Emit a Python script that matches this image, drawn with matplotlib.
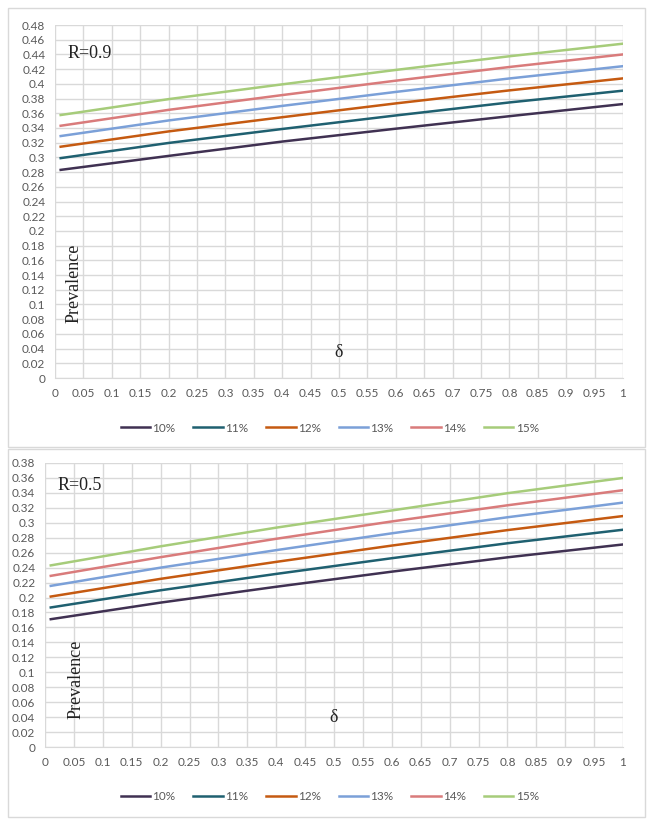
from matplotlib import pyplot as plt
from matplotlib.patches import Rectangle
import numpy as np

# values
delta = [0.01, 0.2, 0.4, 0.6, 0.8, 1.0]
labels = ['10%', '11%', '12%', '13%', '14%', '15%']
colors = ['#403152', '#1F6070', '#C55A11', '#7BA0D8', '#D97B7B', '#A6CC7A']

r09 = [
    [0.283, 0.302, 0.3215, 0.339, 0.356, 0.3725],
    [0.299, 0.3196, 0.3386, 0.357, 0.3747, 0.3907],
    [0.3145, 0.3353, 0.3546, 0.3734, 0.3911, 0.4074],
    [0.329, 0.3502, 0.370, 0.389, 0.4073, 0.424],
    [0.343, 0.3646, 0.3847, 0.4043, 0.4229, 0.440],
    [0.3576, 0.3792, 0.3993, 0.4189, 0.4375, 0.4546],
]
r05 = [
    [0.171, 0.1932, 0.2144, 0.2346, 0.2538, 0.271],
    [0.1867, 0.2097, 0.2316, 0.2526, 0.2726, 0.2907],
    [0.2013, 0.225, 0.2477, 0.2695, 0.2902, 0.309],
    [0.2156, 0.240, 0.2634, 0.2859, 0.3074, 0.327],
    [0.229, 0.254, 0.2786, 0.3018, 0.3234, 0.3436],
    [0.243, 0.2685, 0.2935, 0.3165, 0.3396, 0.360],
]
x_ticks = np.round(np.arange(0, 1.0001, 0.05), 2)

W, H = 653, 825
grid_c = '#D9D9D9'
text_c = '#595959'
serif = 'Liberation Serif'

fig = plt.figure(figsize=(W / 100, H / 100), dpi=100)


def px(l, t, r, b):
    return [l / W, 1 - b / H, (r - l) / W, (b - t) / H]


def tick_fmt(v):
    s = ('%.2f' % v).rstrip('0').rstrip('.')
    return s


def panel(rect, frame, data, ymax, title, prev_y, delta_pos, leg_y):
    fig.patches.append(Rectangle((frame[0] / W, 1 - frame[3] / H),
                                 (frame[2] - frame[0]) / W, (frame[3] - frame[1]) / H,
                                 transform=fig.transFigure, fill=False,
                                 edgecolor=grid_c, lw=1))
    ax = fig.add_axes(px(*rect))
    for vals, c, lab in zip(data, colors, labels):
        ax.plot(delta, vals, color=c, lw=1.8, label=lab)
    ax.set_xlim(0, 1)
    ax.set_ylim(0, ymax)
    ax.set_xticks(x_ticks)
    ax.set_xticklabels([tick_fmt(v) for v in x_ticks])
    yt = np.round(np.arange(0, ymax + 0.001, 0.02), 2)
    ax.set_yticks(yt)
    ax.set_yticklabels([tick_fmt(v) for v in yt])
    ax.grid(True, color=grid_c, lw=1)
    ax.set_axisbelow(True)
    for s in ['top', 'right', 'left']:
        ax.spines[s].set_visible(False)
    ax.spines['bottom'].set_color(grid_c)
    ax.tick_params(length=0, labelsize=8.5, labelcolor=text_c, pad=7)
    for t in ax.get_xticklabels() + ax.get_yticklabels():
        t.set_fontfamily('Lato')
    ax.text(0.022, ymax * 0.92, title, fontsize=13, family=serif, color='#222222',
            va='center', ha='left')
    ax.text(prev_y[0], prev_y[1], 'Prevalence', rotation=90, fontsize=13,
            family=serif, color='#222222', ha='center', va='center')
    ax.text(delta_pos[0], delta_pos[1], 'δ', fontsize=13, family=serif,
            color='#222222', ha='center', va='center')
    # legend centre given in pixels from the top of the image
    leg = fig.legend(*ax.get_legend_handles_labels(), loc='center',
                     bbox_to_anchor=(0.505, 1 - leg_y / H), ncol=6,
                     frameon=False, fontsize=8.5, handlelength=2.5,
                     handletextpad=0.2, columnspacing=1.5, labelcolor=text_c)
    for t in leg.get_texts():
        t.set_fontfamily('Lato')
    return ax


panel((55, 25, 623, 378), (8, 8, 645, 447), r09, 0.48, 'R=0.9',
      (0.033, 0.129), (0.5, 0.035), 428)
panel((45, 463, 623, 747), (8, 449, 645, 817), r05, 0.38, 'R=0.5',
      (0.053, 0.091), (0.5, 0.04), 797)

fig.savefig('out.png', dpi=100)
